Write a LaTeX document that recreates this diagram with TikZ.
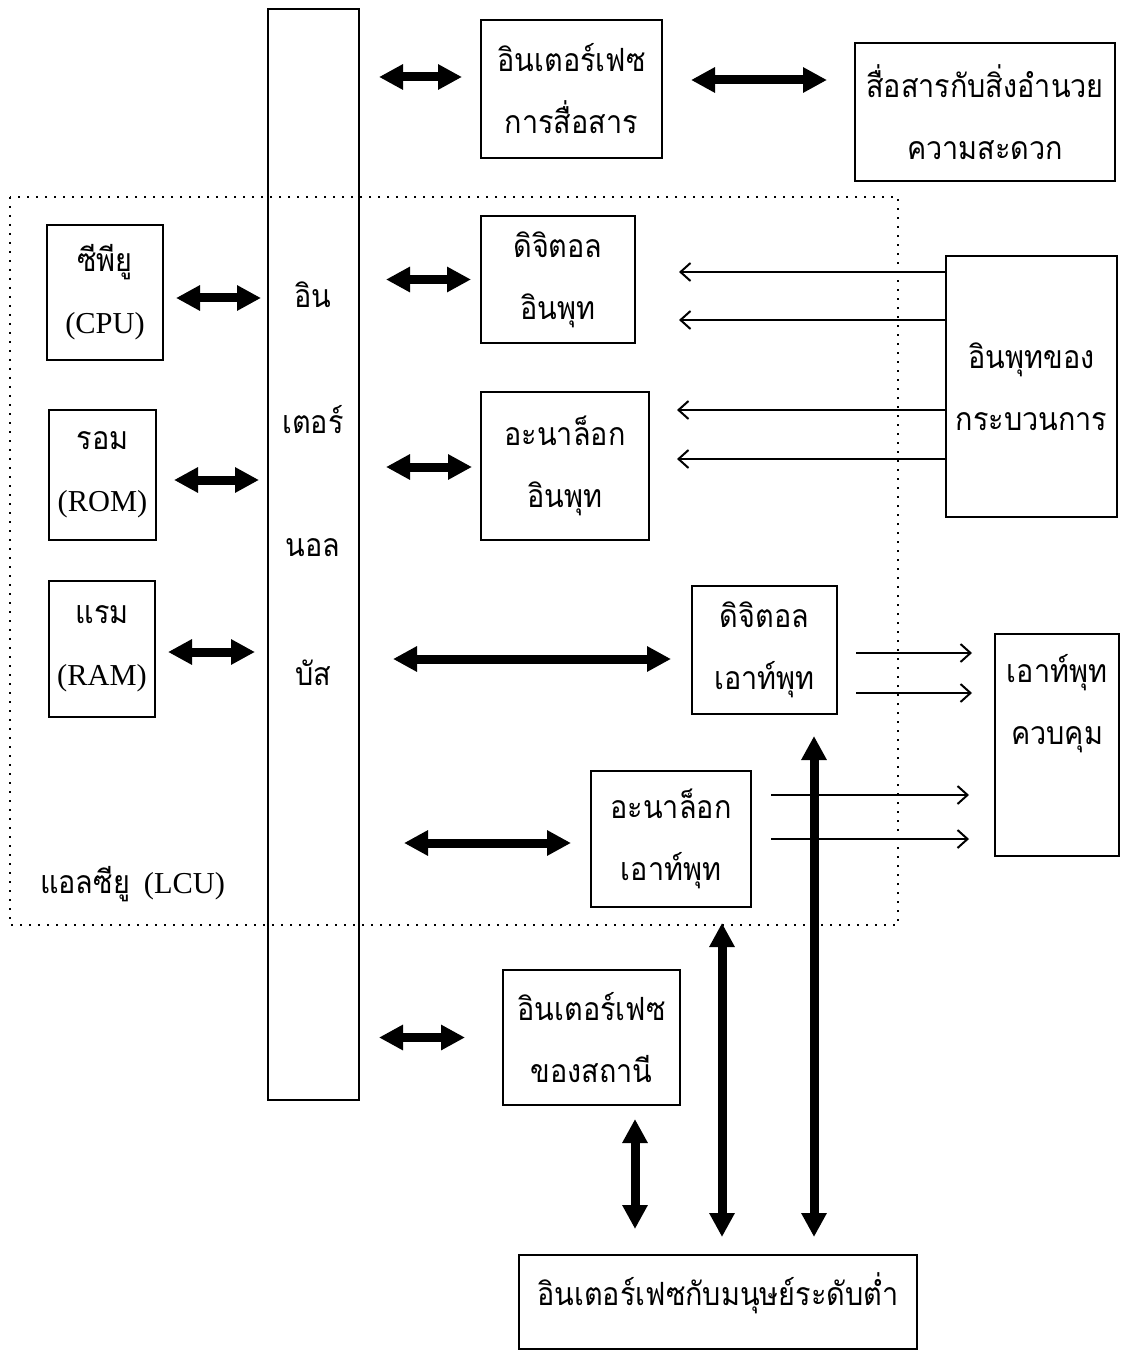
\documentclass[tikz,border=0pt]{standalone}
\usepackage{fontspec}
\setmainfont{Liberation Serif}
\newfontfamily\thai[Script=Thai,FakeStretch=0.9]{Loma}
\usetikzlibrary{arrows.meta,calc}
\newcommand\latin[1]{{\rmfamily\fontsize{15.2pt}{31pt}\selectfont #1}}
\begin{document}
\begin{tikzpicture}[x=0.5pt,y=-0.5pt,
  txt/.style={font=\fontsize{16pt}{31pt}\selectfont\thai, align=center},
  box/.style={draw, line width=1pt, inner sep=0pt, txt},
  dbl/.style={line width=4.5pt,
    {Triangle[length=12pt,width=12pt]}-{Triangle[length=12pt,width=12pt]}},
  thin/.style={line width=1pt, -{Straight Barb[length=5pt,width=9pt]}},
  region/.style={line width=1pt, dash pattern=on 1pt off 3.5pt}]
\useasboundingbox (0,0) rectangle (1124,1352);

% LCU boundary
\draw[region] (10,197) rectangle (898,925);

% blocks
\node[box, minimum width=45.5pt, minimum height=545.5pt] (bus) at (313.5,554.5) {};
\node[box, minimum width=90.5pt, minimum height=69pt] (comm) at (571.5,89) {อินเตอร์เฟซ\\การสื่อสาร};
\node[box, minimum width=130pt, minimum height=69pt] (fac) at (985,112) {สื่อสารกับสิ่งอำนวย\\ความสะดวก};
\node[box, minimum width=58pt, minimum height=67.5pt] (cpu) at (105,292.5) {ซีพียู\\\latin{(CPU)}};
\node[box, minimum width=53.5pt, minimum height=65pt] (rom) at (102.5,475) {รอม\\\latin{(ROM)}};
\node[box, minimum width=53pt, minimum height=68pt] (ram) at (102,649) {แรม\\\latin{(RAM)}};
\node[box, minimum width=77pt, minimum height=63.5pt] (din) at (558,279.5) {ดิจิตอล\\อินพุท};
\node[box, minimum width=84pt, minimum height=74pt] (ain) at (565,466) {อะนาล็อก\\อินพุท};
\node[box, minimum width=85.5pt, minimum height=130.5pt] (pin) at (1031.5,386.5) {อินพุทของ\\กระบวนการ};
\node[box, minimum width=72.5pt, minimum height=64pt] (dout) at (764.5,650) {ดิจิตอล\\เอาท์พุท};
\node[box, minimum width=62pt, minimum height=111pt] (cout) at (1057,745) {};
\node[txt, anchor=north] (couttext) at ($(cout.north)+(0,14)$) {เอาท์พุท\\ควบคุม};
\node[box, minimum width=80pt, minimum height=68pt] (aout) at (671,839) {อะนาล็อก\\เอาท์พุท};
\node[box, minimum width=88.5pt, minimum height=67.5pt] (sta) at (591.5,1037.5) {อินเตอร์เฟซ\\ของสถานี};
\node[box, minimum width=199pt, minimum height=47pt] (hum) at (718,1302) {};
\node[txt, anchor=north] (humtext) at ($(hum.north)+(0,12)$) {อินเตอร์เฟซกับมนุษย์ระดับต่ำ};

% words stacked inside the bus
\node[txt] (bw1) at (313,295) {อิน};
\node[txt] (bw2) at (313,420) {เตอร์};
\node[txt] (bw3) at (313,548) {นอล};
\node[txt] (bw4) at (313,673) {บัส};

\node[anchor=west, font=\fontsize{16pt}{20pt}\selectfont\thai] (lcu) at (33,884) {แอลซียู\hspace{7pt}\latin{(LCU)}};

% bus connections
\draw[dbl] ($(bus.east |- comm.west)+(19,-12)$) -- ($(comm.west)+(-18,-12)$);
\draw[dbl] ($(comm.east)+(28,-9)$) -- ($(fac.west)+(-27,-32)$);
\draw[dbl] ($(cpu.east)+(12,5.5)$) -- ($(bus.west |- cpu.east)+(-6,5.5)$);
\draw[dbl] ($(rom.east)+(17,5)$) -- ($(bus.west |- rom.east)+(-8,5)$);
\draw[dbl] ($(ram.east)+(12,3)$) -- ($(bus.west |- ram.east)+(-12,3)$);
\draw[dbl] ($(bus.east |- din.west)+(26,0)$) -- ($(din.west)+(-9,0)$);
\draw[dbl] ($(bus.east |- ain.west)+(26,1)$) -- ($(ain.west)+(-8,1)$);
\draw[dbl] ($(bus.east |- dout.west)+(33,9)$) -- ($(dout.west)+(-20,9)$);
\draw[dbl] ($(bus.east |- aout.west)+(44,4)$) -- ($(aout.west)+(-19,4)$);
\draw[dbl] ($(bus.east |- sta.west)+(19,0)$) -- ($(sta.west)+(-37,0)$);

% links to the low level human interface
\draw[dbl] ($(sta.south)+(43.5,13)$) -- ($(hum.north -| sta.south)+(43.5,-25)$);
\draw[dbl] ($(aout.south)+(51,15)$) -- ($(hum.north -| aout.south)+(51,-17)$);
\draw[dbl] ($(dout.south)+(49.5,21)$) -- ($(hum.north -| dout.south)+(49.5,-17)$);

% process signals
\draw[thin] ($(pin.west)+(0,-114.5)$) -- ($(din.east)+(43,-7.5)$);
\draw[thin] ($(pin.west)+(0,-66.5)$) -- ($(din.east)+(43,40.5)$);
\draw[thin] ($(pin.west)+(0,23.5)$) -- ($(ain.east)+(27,-56)$);
\draw[thin] ($(pin.west)+(0,72.5)$) -- ($(ain.east)+(27,-7)$);
\draw[thin] ($(dout.east)+(18,3)$) -- ($(cout.west)+(-22,-92)$);
\draw[thin] ($(dout.east)+(18,43)$) -- ($(cout.west)+(-22,-52)$);
\draw[thin] ($(aout.east)+(19,-44)$) -- ($(cout.west)+(-25,50)$);
\draw[thin] ($(aout.east)+(19,0)$) -- ($(cout.west)+(-25,94)$);
\end{tikzpicture}
\end{document}
